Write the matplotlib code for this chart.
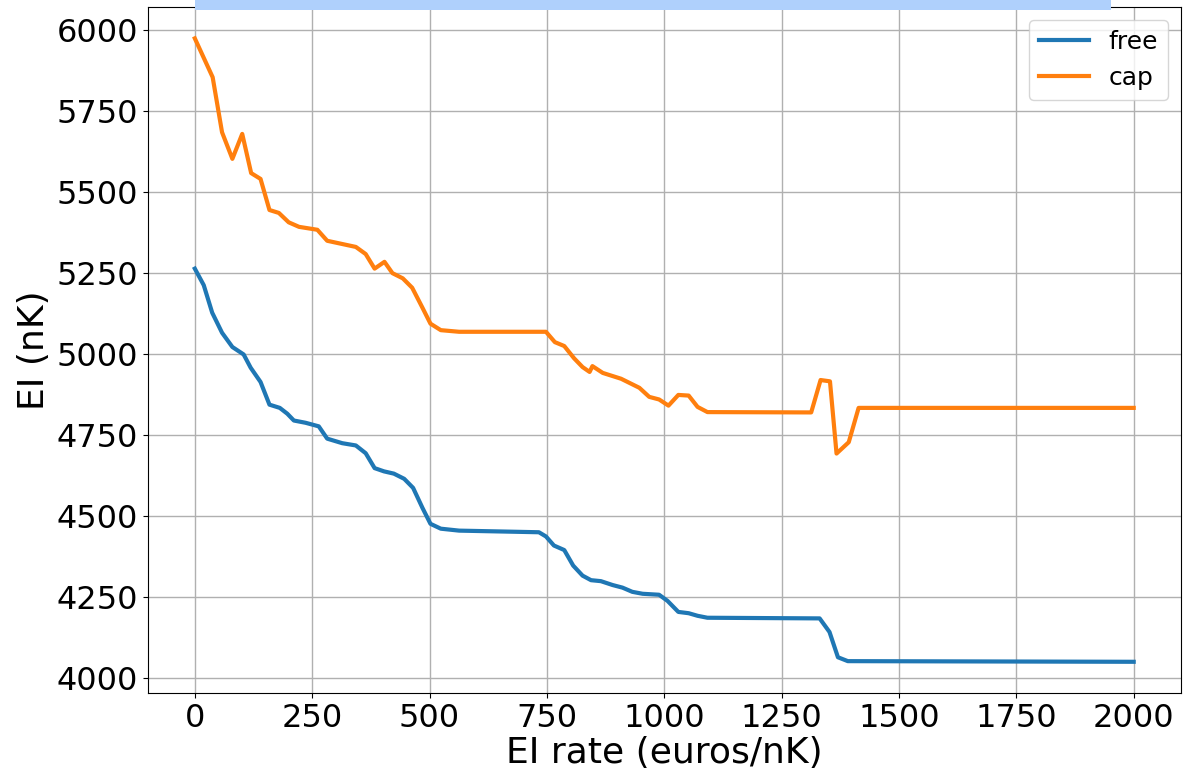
import matplotlib
matplotlib.use("Agg")
import matplotlib.pyplot as plt

free_x = [0, 19, 37, 58, 80, 104, 119, 140, 159, 181, 197, 211, 236, 264, 282, 314, 343, 364, 383, 403,
          424, 446, 465, 485, 502, 524, 563, 733, 748, 765, 787, 806, 826, 844, 865, 890, 911, 932, 954,
          989, 1007, 1030, 1052, 1071, 1092, 1331, 1352, 1370, 1391, 2000]
free_y = [5264, 5213, 5128, 5066, 5022, 4999, 4958, 4914, 4844, 4834, 4816, 4795, 4788, 4777, 4739, 4725,
          4718, 4694, 4648, 4638, 4631, 4615, 4587, 4525, 4476, 4461, 4455, 4450, 4437, 4409, 4395, 4347,
          4316, 4302, 4299, 4287, 4279, 4266, 4260, 4257, 4238, 4204, 4200, 4192, 4186, 4184, 4142, 4064,
          4052, 4050]

cap_x = [0, 38, 58, 80, 101, 120, 140, 159, 179, 200, 222, 261, 282, 343, 364, 383, 404, 421, 443, 463,
         485, 502, 524, 563, 748, 767, 787, 808, 826, 841, 847, 869, 908, 947, 968, 989, 1009, 1030, 1052,
         1071, 1092, 1313, 1333, 1353, 1367, 1393, 1414, 2000]
cap_y = [5975, 5855, 5685, 5603, 5680, 5559, 5541, 5445, 5436, 5407, 5393, 5384, 5350, 5331, 5309, 5264,
         5285, 5250, 5234, 5205, 5143, 5094, 5074, 5069, 5069, 5037, 5025, 4987, 4960, 4945, 4963, 4942,
         4924, 4896, 4868, 4860, 4841, 4874, 4872, 4837, 4821, 4820, 4920, 4916, 4693, 4728, 4834, 4834]

xticks = [0, 250, 500, 750, 1000, 1250, 1500, 1750, 2000]
yticks = [4000, 4250, 4500, 4750, 5000, 5250, 5500, 5750, 6000]

fig = plt.figure(figsize=(11.83, 7.74), dpi=100)
ax = fig.add_axes([0.125, 0.1047, 0.873, 0.886])

ax.plot(free_x, free_y, color="#1f77b4", lw=3, label="free")
ax.plot(cap_x, cap_y, color="#ff7f0e", lw=3, label="cap")

ax.set_xticks(xticks)
ax.set_yticks(yticks)
ax.tick_params(labelsize=23)
ax.set_xlabel("EI rate (euros/nK)", fontsize=26, labelpad=2)
ax.set_ylabel("EI (nK)", fontsize=26)
ax.grid(True, color="#b0b0b0", lw=1)
ax.legend(loc="upper right", fontsize=18)

ax.text(0.489, 1.012, "EI versus EI rate for the free and capped strategy", transform=ax.transAxes,
        ha="center", va="bottom", fontsize=26, color="#1f3a93",
        bbox=dict(boxstyle="square,pad=0.3", facecolor="#afd0fc", edgecolor="none"))

fig.savefig("out.png", dpi=100)
